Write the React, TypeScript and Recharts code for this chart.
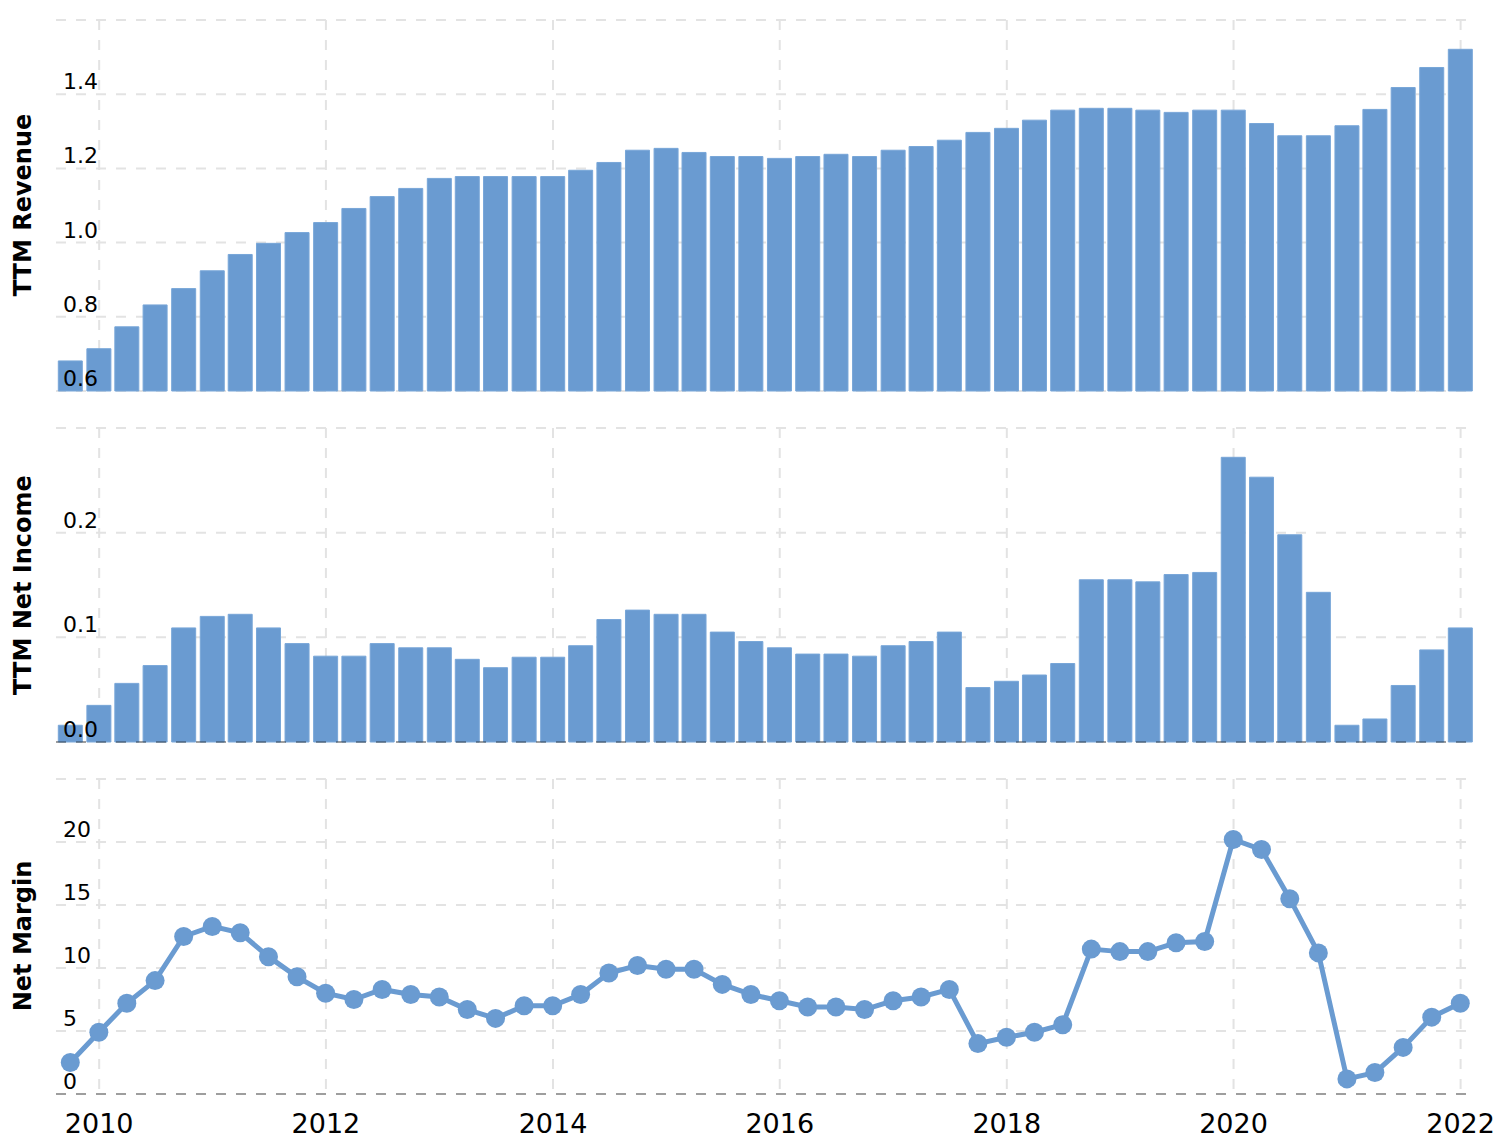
import React from "react"
import { ComposedChart, Bar, Line, XAxis, YAxis, CartesianGrid, ReferenceLine } from "recharts"

// ── Data (quarter ends, TTM values) ───────────────────────────────────────────

const QUARTER_ENDS = [
  "2009-09-30", "2009-12-31",
  "2010-03-31", "2010-06-30", "2010-09-30", "2010-12-31",
  "2011-03-31", "2011-06-30", "2011-09-30", "2011-12-31",
  "2012-03-31", "2012-06-30", "2012-09-30", "2012-12-31",
  "2013-03-31", "2013-06-30", "2013-09-30", "2013-12-31",
  "2014-03-31", "2014-06-30", "2014-09-30", "2014-12-31",
  "2015-03-31", "2015-06-30", "2015-09-30", "2015-12-31",
  "2016-03-31", "2016-06-30", "2016-09-30", "2016-12-31",
  "2017-03-31", "2017-06-30", "2017-09-30", "2017-12-31",
  "2018-03-31", "2018-06-30", "2018-09-30", "2018-12-31",
  "2019-03-31", "2019-06-30", "2019-09-30", "2019-12-31",
  "2020-03-31", "2020-06-30", "2020-09-30", "2020-12-31",
  "2021-03-31", "2021-06-30", "2021-09-30", "2021-12-31",
]

const TTM_REVENUE = [
  0.681, 0.714,
  0.773, 0.832, 0.876, 0.924,
  0.968, 0.998, 1.027, 1.054,
  1.092, 1.124, 1.146, 1.173,
  1.178, 1.178, 1.178, 1.178,
  1.195, 1.216, 1.249, 1.254,
  1.243, 1.232, 1.232, 1.227,
  1.232, 1.238, 1.232, 1.249,
  1.259, 1.276, 1.297, 1.308,
  1.330, 1.357, 1.362, 1.362,
  1.357, 1.351, 1.357, 1.357,
  1.321, 1.288, 1.288, 1.315,
  1.359, 1.418, 1.472, 1.521,
]

const TTM_NET_INCOME = [
  0.016, 0.035,
  0.056, 0.073, 0.109, 0.120,
  0.122, 0.109, 0.094, 0.082,
  0.082, 0.094, 0.090, 0.090,
  0.079, 0.071, 0.081, 0.081,
  0.092, 0.117, 0.126, 0.122,
  0.122, 0.105, 0.096, 0.090,
  0.084, 0.084, 0.082, 0.092,
  0.096, 0.105, 0.052, 0.058,
  0.064, 0.075, 0.155, 0.155,
  0.153, 0.160, 0.162, 0.272,
  0.253, 0.198, 0.143, 0.016,
  0.022, 0.054, 0.088, 0.109,
]

const NET_MARGIN = [
  2.5, 4.9,
  7.2, 9.0, 12.5, 13.3,
  12.8, 10.9, 9.3, 8.0,
  7.5, 8.3, 7.9, 7.7,
  6.7, 6.0, 7.0, 7.0,
  7.9, 9.6, 10.2, 9.9,
  9.9, 8.7, 7.9, 7.4,
  6.9, 6.9, 6.7, 7.4,
  7.7, 8.3, 4.0, 4.5,
  4.9, 5.5, 11.5, 11.3,
  11.3, 12.0, 12.1, 20.2,
  19.4, 15.5, 11.2, 1.2,
  1.7, 3.7, 6.1, 7.2,
]

const YEAR_TICKS = ["2010-01-01", "2012-01-01", "2014-01-01", "2016-01-01", "2018-01-01", "2020-01-01", "2022-01-01"]
const X_RANGE = ["2009-08-15", "2022-01-28"]

const REVENUE_TICKS = [0.6, 0.8, 1.0, 1.2, 1.4, 1.6]
const INCOME_TICKS = [0, 0.1, 0.2, 0.3]
const MARGIN_TICKS = [0, 5, 10, 15, 20, 25]

// ── Styling ──────────────────────────────────────────────────────────────────

const W = 1498
const FONT = "'DejaVu Sans', Verdana, sans-serif"
const BLUE = "#6a9bd1"
const BLUE_EDGE = "#78a6d8"
const GRID = "#e3e3e3"
const MARGIN_X = { left: 56, right: 29 }

const ts = (d: string) => Date.parse(d + "T00:00:00Z")
const X_DOMAIN = X_RANGE.map(ts)
const X_TICKS = YEAR_TICKS.map(ts)

const rows = QUARTER_ENDS.map((d, i) => ({
  t: ts(d),
  revenue: TTM_REVENUE[i],
  income: TTM_NET_INCOME[i],
  margin: NET_MARGIN[i],
}))

function makeYTick(top: number, digits: number) {
  return function YTick(props: any) {
    const { x, y, payload } = props
    if (payload.value === top) return <g />
    return (
      <text x={x} y={y - 5} fill="#000" fontSize={22} fontFamily={FONT} textAnchor="start">
        {Number(payload.value).toFixed(digits)}
      </text>
    )
  }
}

function Title({ text, cy }: { text: string; cy: number }) {
  return (
    <div
      style={{
        position: "absolute",
        left: 23,
        top: cy,
        transform: "translate(-50%, -50%) rotate(-90deg)",
        whiteSpace: "nowrap",
        fontFamily: FONT,
        fontWeight: "bold",
        fontSize: 24,
        lineHeight: "24px",
        color: "#000",
      }}
    >
      {text}
    </div>
  )
}

const gridProps = { stroke: GRID, strokeWidth: 2, strokeDasharray: "10 10", syncWithTicks: true }

export default function App() {
  return (
    <div style={{ position: "absolute", left: 0, top: 0, width: W, height: 1142, background: "#fff" }}>
      {/* TTM Revenue */}
      <div style={{ position: "absolute", left: 0, top: 0 }}>
        <ComposedChart width={W} height={400} data={rows} margin={{ top: 20, bottom: 9, ...MARGIN_X }}>
          <CartesianGrid {...gridProps} />
          <Bar dataKey="revenue" fill={BLUE} stroke={BLUE_EDGE} strokeWidth={1} barSize={24} isAnimationActive={false} />
          <XAxis dataKey="t" type="number" domain={X_DOMAIN} ticks={X_TICKS} hide />
          <YAxis
            domain={[0.6, 1.6]}
            ticks={REVENUE_TICKS}
            mirror
            axisLine={false}
            tickLine={false}
            tickSize={0}
            tickMargin={7}
            tick={makeYTick(1.6, 1)}
          />
        </ComposedChart>
      </div>

      {/* TTM Net Income */}
      <div style={{ position: "absolute", left: 0, top: 400 }}>
        <ComposedChart width={W} height={352} data={rows} margin={{ top: 28, bottom: 10, ...MARGIN_X }}>
          <CartesianGrid {...gridProps} />
          <Bar dataKey="income" fill={BLUE} stroke={BLUE_EDGE} strokeWidth={1} barSize={24} isAnimationActive={false} />
          <ReferenceLine y={0} stroke="#000" strokeOpacity={0.3} strokeWidth={2} strokeDasharray="10 10" />
          <XAxis dataKey="t" type="number" domain={X_DOMAIN} ticks={X_TICKS} hide />
          <YAxis
            domain={[0, 0.3]}
            ticks={INCOME_TICKS}
            mirror
            axisLine={false}
            tickLine={false}
            tickSize={0}
            tickMargin={7}
            tick={makeYTick(0.3, 1)}
          />
        </ComposedChart>
      </div>

      {/* Net Margin */}
      <div style={{ position: "absolute", left: 0, top: 752 }}>
        <ComposedChart width={W} height={390} data={rows} margin={{ top: 27, bottom: 12, ...MARGIN_X }}>
          <CartesianGrid {...gridProps} />
          <Line
            type="linear"
            dataKey="margin"
            stroke={BLUE}
            strokeWidth={5}
            dot={{ r: 9.5, fill: BLUE, stroke: BLUE, strokeWidth: 0 }}
            activeDot={false}
            isAnimationActive={false}
          />
          <XAxis
            dataKey="t"
            type="number"
            domain={X_DOMAIN}
            ticks={X_TICKS}
            interval={0}
            height={36}
            axisLine={{ stroke: "#000", strokeOpacity: 0.3, strokeWidth: 2, strokeDasharray: "10 10" }}
            tickLine={false}
            tickSize={0}
            tickMargin={20}
            tickFormatter={(v: number) => String(new Date(v).getUTCFullYear())}
            tick={{ fontSize: 27, fill: "#000", fontFamily: FONT }}
          />
          <YAxis
            domain={[0, 25]}
            ticks={MARGIN_TICKS}
            mirror
            axisLine={false}
            tickLine={false}
            tickSize={0}
            tickMargin={7}
            tick={makeYTick(25, 0)}
          />
        </ComposedChart>
      </div>

      <Title text="TTM Revenue" cy={205} />
      <Title text="TTM Net Income" cy={585} />
      <Title text="Net Margin" cy={936} />
    </div>
  )
}
